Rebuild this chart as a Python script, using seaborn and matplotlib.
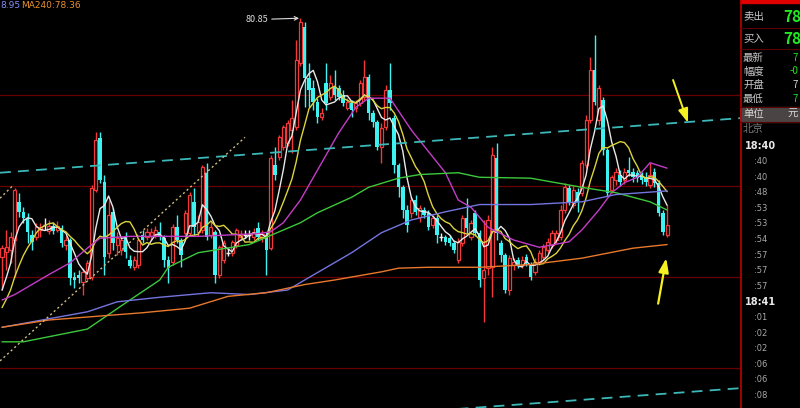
import numpy as np
import pandas as pd
import matplotlib
matplotlib.use('Agg')
import matplotlib.pyplot as plt
import seaborn as sns

sns.set_theme(style='dark')
plt.rcParams['font.family'] = ['Noto Sans CJK SC', 'DejaVu Sans']
plt.rcParams['axes.unicode_minus'] = False

# 1-minute candles, oldest first
opens = [78.22, 78.28, 78.30, 78.41, 78.83, 78.72, 78.65, 78.47, 78.44, 78.52,
         78.58, 78.51, 78.56, 78.52, 78.54, 78.36, 78.41, 78.00, 78.03, 77.95,
         77.99, 78.00, 78.96, 79.53, 79.05, 78.27, 78.72, 78.36, 78.30, 78.43,
         78.19, 78.11, 78.14, 78.47, 78.44, 78.45, 78.47, 78.50, 78.43, 78.19,
         78.17, 78.55, 78.41, 78.49, 78.49, 78.83, 78.50, 78.52, 79.15, 78.47,
         78.50, 78.03, 78.19, 78.27, 78.27, 78.36, 78.44, 78.47, 78.47, 78.44,
         78.54, 78.43, 78.47, 78.32, 79.24, 79.32, 79.43, 79.48, 79.62, 79.65,
         80.36, 80.75, 80.19, 80.08, 79.93, 79.76, 80.14, 79.98, 80.09, 80.08,
         80.01, 79.86, 79.92, 79.86, 79.92, 79.98, 80.20, 79.81, 79.71, 79.43,
         79.65, 80.06, 79.75, 79.24, 78.99, 78.74, 78.71, 78.85, 78.66, 78.74,
         78.71, 78.58, 78.65, 78.44, 78.44, 78.43, 78.38, 78.19, 78.38, 78.65,
         78.44, 78.71, 78.49, 77.99, 78.10, 78.11, 79.31, 78.38, 78.25, 77.86,
         78.14, 78.19, 78.14, 78.22, 78.14, 78.06, 78.17, 78.22, 78.30, 78.36,
         78.41, 78.44, 78.74, 78.98, 78.80, 78.94, 78.93, 79.24, 79.73, 80.28,
         79.73, 79.95, 79.40, 78.96, 79.07, 79.13, 79.07, 79.18, 79.16, 79.15,
         79.13, 79.10, 79.02, 79.16, 79.04, 78.71, 78.47]
closes = [78.32, 78.33, 78.44, 78.96, 78.72, 78.65, 78.50, 78.39, 78.55, 78.55,
          78.58, 78.56, 78.51, 78.56, 78.38, 78.41, 77.99, 77.97, 77.99, 78.06,
          78.16, 78.98, 79.51, 79.07, 78.22, 78.69, 78.38, 78.43, 78.41, 78.28,
          78.12, 78.19, 78.41, 78.41, 78.50, 78.50, 78.52, 78.44, 78.19, 78.10,
          78.55, 78.41, 78.25, 78.71, 78.91, 78.55, 78.61, 79.21, 78.44, 78.55,
          78.03, 78.33, 78.38, 78.27, 78.39, 78.52, 78.48, 78.47, 78.47, 78.50,
          78.44, 78.48, 78.30, 79.31, 79.13, 79.54, 79.65, 79.70, 79.75, 80.39,
          80.81, 80.19, 80.06, 79.93, 79.76, 79.81, 79.92, 80.14, 80.01, 79.98,
          79.92, 79.93, 79.84, 79.92, 80.14, 80.20, 79.81, 79.71, 79.43, 79.64,
          80.06, 79.92, 79.24, 78.99, 78.74, 78.58, 78.85, 78.72, 78.76, 78.69,
          78.55, 78.65, 78.47, 78.44, 78.39, 78.38, 78.30, 78.39, 78.65, 78.54,
          78.60, 78.49, 77.97, 78.08, 78.63, 79.35, 78.49, 78.25, 77.86, 78.21,
          78.17, 78.14, 78.19, 78.16, 78.00, 78.17, 78.27, 78.33, 78.39, 78.49,
          78.49, 78.74, 78.99, 78.83, 78.96, 78.83, 79.26, 79.73, 80.28, 79.93,
          80.08, 79.40, 78.93, 79.10, 79.16, 79.05, 79.16, 79.15, 79.10, 79.09,
          79.07, 79.05, 79.13, 79.04, 78.71, 78.50, 78.58]
highs = [78.36, 78.52, 78.50, 78.98, 78.93, 78.77, 78.71, 78.52, 78.60, 78.60,
         78.65, 78.63, 78.61, 78.62, 78.58, 78.45, 78.43, 78.06, 78.08, 78.10,
         78.19, 79.02, 79.60, 79.60, 79.13, 78.85, 78.76, 78.50, 78.45, 78.50,
         78.25, 78.23, 78.43, 78.52, 78.54, 78.54, 78.56, 78.61, 78.47, 78.23,
         78.59, 78.69, 78.43, 78.74, 78.94, 78.98, 78.69, 79.24, 79.26, 78.61,
         78.52, 78.36, 78.41, 78.32, 78.41, 78.54, 78.52, 78.52, 78.52, 78.54,
         78.61, 78.52, 78.50, 79.35, 79.43, 79.57, 79.68, 79.73, 79.95, 80.61,
         80.85, 80.81, 80.36, 80.17, 79.97, 79.86, 80.36, 80.23, 80.28, 80.12,
         80.06, 79.97, 79.95, 79.95, 80.17, 80.39, 80.24, 79.84, 79.73, 79.70,
         80.12, 80.36, 79.79, 79.26, 79.02, 78.80, 78.88, 78.91, 78.80, 78.77,
         78.74, 78.69, 78.69, 78.49, 78.47, 78.47, 78.41, 78.43, 78.69, 78.87,
         78.63, 78.74, 78.52, 78.63, 78.69, 79.43, 79.48, 78.41, 78.27, 78.25,
         78.21, 78.22, 78.23, 78.26, 78.17, 78.21, 78.30, 78.37, 78.43, 78.52,
         78.52, 78.80, 79.04, 79.02, 79.00, 78.98, 79.29, 79.79, 80.42, 80.67,
         80.12, 79.98, 79.42, 79.13, 79.20, 79.18, 79.20, 79.32, 79.20, 79.18,
         79.16, 79.16, 79.26, 79.20, 79.07, 78.74, 78.80]
lows = [77.86, 78.08, 78.16, 78.00, 78.66, 78.60, 78.38, 78.30, 78.41, 78.44,
        78.52, 78.48, 78.48, 78.50, 78.33, 78.30, 77.92, 77.88, 77.94, 77.81,
        77.97, 77.97, 78.94, 79.04, 78.03, 78.21, 78.30, 78.25, 78.25, 78.21,
        78.10, 78.08, 78.10, 78.38, 78.41, 78.41, 78.43, 78.41, 78.11, 77.94,
        78.14, 78.38, 78.11, 78.45, 78.45, 78.47, 78.45, 78.49, 78.41, 78.43,
        77.94, 77.99, 78.16, 78.23, 78.23, 78.32, 78.41, 78.43, 78.41, 78.41,
        78.41, 78.39, 78.03, 78.30, 79.07, 79.29, 79.40, 79.44, 79.37, 79.62,
        80.32, 79.87, 79.87, 79.84, 79.70, 79.73, 79.84, 79.95, 79.95, 79.95,
        79.88, 79.84, 79.76, 79.82, 79.88, 79.95, 79.73, 79.65, 79.40, 79.26,
        79.62, 79.84, 79.15, 78.88, 78.65, 78.50, 78.65, 78.69, 78.61, 78.65,
        78.52, 78.54, 78.38, 78.40, 78.36, 78.34, 78.27, 78.16, 78.34, 78.49,
        78.41, 78.45, 77.89, 77.51, 78.03, 77.78, 78.41, 78.17, 77.83, 77.81,
        78.08, 78.10, 78.10, 78.12, 77.97, 78.03, 78.14, 78.19, 78.27, 78.32,
        78.38, 78.41, 78.71, 78.80, 78.76, 78.72, 78.89, 79.20, 79.70, 79.90,
        79.68, 79.35, 78.89, 78.93, 79.02, 79.00, 79.03, 79.11, 79.05, 79.05,
        79.03, 79.00, 78.98, 78.99, 78.67, 78.47, 78.44]
# closes just before the visible window (they feed MA5 / MA10 at the left edge)
pre_close = [77.42, 77.42, 77.48, 77.51, 77.54, 77.64, 77.66, 77.68, 77.99]

# longer averages at a few bars
ma20_idx = [0, 3, 11, 16, 20, 23, 30, 46, 60, 63, 66, 70, 79, 83, 86, 91, 96, 104,
            107, 110, 114, 120, 126, 133, 136, 140, 143, 146, 149, 152, 156]
ma20_val = [77.75, 77.81, 78.03, 78.16, 78.32, 78.43, 78.45, 78.45, 78.48, 78.50, 78.60,
            78.85, 79.59, 79.87, 79.97, 79.97, 79.62, 79.15, 78.85, 78.77, 78.55,
            78.41, 78.33, 78.39, 78.52, 78.74, 78.93, 79.04, 79.10, 79.26, 79.20]
ma60_idx = [0, 5, 20, 30, 37, 39, 46, 54, 58, 66, 70, 74, 82, 86, 93, 98, 107, 112,
            124, 136, 144, 152, 156]
ma60_val = [77.29, 77.29, 77.43, 77.75, 77.97, 78.11, 78.27, 78.33, 78.36, 78.52, 78.60,
            78.71, 78.88, 78.99, 79.09, 79.13, 79.15, 79.10, 79.09, 78.99, 78.93,
            78.83, 78.74]
ma120_idx = [0, 20, 27, 37, 49, 58, 67, 71, 82, 89, 96, 104, 112, 124, 136, 144, 156]
ma120_val = [77.45, 77.62, 77.73, 77.78, 77.83, 77.81, 77.86, 77.97, 78.27, 78.49,
             78.63, 78.72, 78.80, 78.80, 78.83, 78.91, 78.95]
ma240_idx = [0, 11, 33, 44, 53, 62, 71, 78, 89, 93, 100, 112, 124, 136, 148, 156]
ma240_val = [77.45, 77.53, 77.61, 77.66, 77.79, 77.83, 77.92, 77.97, 78.06, 78.10,
             78.11, 78.11, 78.14, 78.21, 78.32, 78.36]

# hand-drawn lines on the chart
chan_x = [-0.47, 173.1]
chan_top = [79.15, 79.75]
chan_bot = [76.18, 76.78]
trend_x = [-0.47, 57.0]
trend_y = [77.08, 79.54]
trend2_x = [-0.47, 2.8]
trend2_y = [78.87, 79.02]
price_grid = [80.0, 79.0, 78.0, 77.0]

times = ['18:40', ':40', ':40', ':48', ':53', ':53', ':54', ':57', ':57', ':57',
         '18:41', ':01', ':02', ':02', ':06', ':06', ':08']
quote_labels = ['最新', '幅度', '开盘', '最低']
quote_values = ['7', '-0', '7', '7']
quote_colors = ['#20e020', '#20e020', '#d8d8d8', '#20e020']

RED = '#f23838'
CYAN = '#3ef2f2'

o = np.array(opens); c = np.array(closes)
h = np.array(highs); l = np.array(lows)
x = np.arange(len(o))
up = c > o
dn = c < o
fl = c == o

full = pd.Series(pre_close + closes)
ma5 = full.rolling(5).mean().iloc[len(pre_close):].to_numpy()
ma10 = full.rolling(10).mean().iloc[len(pre_close):].to_numpy()

fig = plt.figure(figsize=(8, 4.08), dpi=100, facecolor='black')
ax = fig.add_axes([0, 0, 740 / 800, 1])
ax.set_facecolor('black')
for s in ax.spines.values():
    s.set_visible(False)
ax.set_xticks([]); ax.set_yticks([])
ax.grid(False)
ax.set_xlim(-0.47, 173.1)
ax.set_ylim(76.562, 81.05)

for g in price_grid:
    ax.axhline(g, color='#6a0000', lw=0.9, zorder=1)

# wicks
wick_col = np.where(up, RED, np.where(dn, CYAN, '#f0f0f0'))
ax.vlines(x, l, h, colors=wick_col, lw=1.0, zorder=2)
# bodies: hollow red up bars, filled cyan down bars
ax.bar(x[up], (c - o)[up], bottom=o[up], width=0.74, facecolor='black',
       edgecolor=RED, lw=0.9, zorder=3)
ax.bar(x[dn], (o - c)[dn], bottom=c[dn], width=0.82, color=CYAN, lw=0, zorder=3)
ax.hlines(o[fl], x[fl] - 0.42, x[fl] + 0.42, colors='#f0f0f0', lw=1, zorder=3)

# moving averages
lines = [(x, ma5, '#e8e8e8'), (x, ma10, '#dcd43c'), (ma20_idx, ma20_val, '#c43cc8'),
         (ma60_idx, ma60_val, '#3cc83c'), (ma120_idx, ma120_val, '#7474e0'),
         (ma240_idx, ma240_val, '#e8782c')]
for xs, ys, col in lines:
    sns.lineplot(x=xs, y=ys, ax=ax, color=col, lw=1.0, zorder=4)
ax.set_xlabel(''); ax.set_ylabel('')

# channel and trend lines
ax.plot(chan_x, chan_top, color='#3cb8b8', lw=1.3, dashes=(6, 4), zorder=5)
ax.plot(chan_x, chan_bot, color='#3cb8b8', lw=1.3, dashes=(6, 4), zorder=5)
ax.plot(trend_x, trend_y, color='#cdbd80', lw=1.0, ls=(0, (1.5, 2)), zorder=5)
ax.plot(trend2_x, trend2_y, color='#cdbd80', lw=1.0, ls=(0, (1.5, 2)), zorder=5)

# peak marker
top = int(np.argmax(h))
ax.annotate(f'{h[top]:.2f}', xy=(top, h[top]), xytext=(-23, -1), textcoords='offset points',
            color='#dddddd', fontsize=6.5, ha='right', va='center',
            arrowprops=dict(arrowstyle='->', color='#dddddd', lw=0.8, shrinkA=0, shrinkB=1))

# yellow arrows
ax.annotate('', xy=(160.9, 79.70), xytext=(157.4, 80.17),
            arrowprops=dict(arrowstyle='-|>,head_length=0.7,head_width=0.25', color='#f5f020',
                            lw=1.4, shrinkA=0, shrinkB=0))
ax.annotate('', xy=(155.8, 78.21), xytext=(153.9, 77.71),
            arrowprops=dict(arrowstyle='-|>,head_length=0.7,head_width=0.25', color='#f5f020',
                            lw=1.6, shrinkA=0, shrinkB=0))

# legend text at the top left
fig.text(0 / 800, 1 - 6 / 408, '8.95', color='#8a8aff', fontsize=6.5, va='center',
         family='DejaVu Sans')
fig.text(21 / 800, 1 - 6 / 408, 'MA240:78.36', color='#e8902c', fontsize=6.5, va='center',
         family='DejaVu Sans')

# right quote / tick panel
rp = fig.add_axes([740 / 800, 0, 60 / 800, 1])
rp.set_facecolor('black')
for s in rp.spines.values():
    s.set_visible(False)
rp.set_xticks([]); rp.set_yticks([])
rp.set_xlim(0, 60); rp.set_ylim(408, 0)
rp.axvline(0.6, color='#c00000', lw=1.2)
rp.axhspan(0, 3, color='#e00000')
rp.axhspan(107, 122, color='#4a4444')
for yy in [28, 49, 107, 122]:
    rp.axhline(yy, color='#5a0000', lw=0.8)

rp.text(3, 17, '卖出', color='#c8c8c8', fontsize=7.5, va='center')
rp.text(43, 17, '78', color='#22e822', fontsize=11, fontweight='bold', va='center')
rp.text(3, 39, '买入', color='#c8c8c8', fontsize=7.5, va='center')
rp.text(43, 39, '78', color='#22e822', fontsize=11, fontweight='bold', va='center')
for k, (lab, val, vc) in enumerate(zip(quote_labels, quote_values, quote_colors)):
    yy = 58 + k * 13.5
    rp.text(3, yy, lab, color='#c8c8c8', fontsize=7.5, va='center')
    rp.text(58, yy, val, color=vc, fontsize=7, ha='right', va='center')
rp.text(3, 114, '单位', color='#d8d8d8', fontsize=7.5, va='center')
rp.text(58, 114, '元', color='#d8d8d8', fontsize=7.5, ha='right', va='center')
rp.text(3, 129, '北京', color='#7a7a7a', fontsize=7.5, va='center')
for k, t in enumerate(times):
    yy = 146 + k * 15.6
    if t.startswith('18'):
        rp.text(5, yy, t, color='#e8e8e8', fontsize=7, fontweight='bold', va='center',
                family='DejaVu Sans')
    else:
        rp.text(27, yy, t, color='#a8a8a8', fontsize=6, ha='right', va='center',
                family='DejaVu Sans')

fig.savefig('out.png', dpi=100, facecolor='black')
